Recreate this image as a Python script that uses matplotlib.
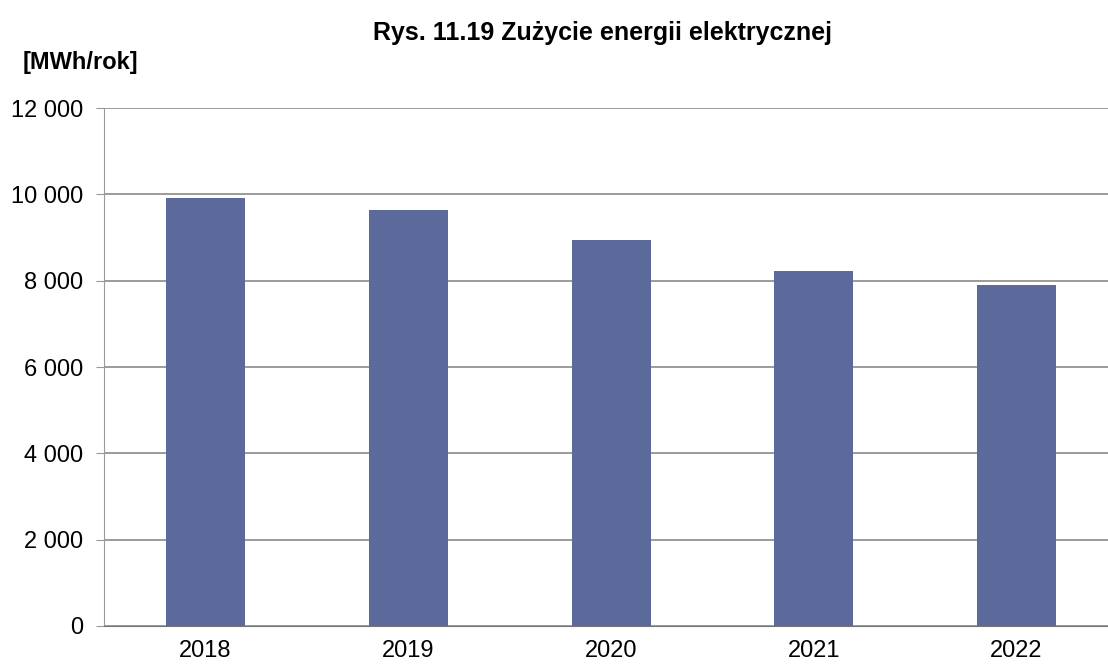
import matplotlib.pyplot as plt
import numpy as np

plt.rcParams['font.family'] = ['Liberation Sans', 'DejaVu Sans']

years = ['2018', '2019', '2020', '2021', '2022']
zuzycie = [9930, 9640, 8950, 8220, 7900]
yticks = [0, 2000, 4000, 6000, 8000, 10000, 12000]
ylabels = ['0', '2 000', '4 000', '6 000', '8 000', '10 000', '12 000']

fig = plt.figure(figsize=(11.08, 6.68), dpi=100)
ax = fig.add_axes([0.094, 0.063, 0.915, 0.775])

x = np.arange(len(years))
ax.bar(x, zuzycie, width=0.39, color='#5b6a9b', zorder=3)

ax.set_xlim(-0.5, 4.5)
ax.set_ylim(0, 12000)
ax.set_yticks(yticks)
ax.set_yticklabels(ylabels, fontsize=17)
ax.set_xticks(x)
ax.set_xticklabels(years, fontsize=17)
ax.tick_params(axis='x', length=0, pad=10)
ax.tick_params(axis='y', length=6, color='#999999', pad=9)
ax.yaxis.grid(True, color='#8a8a8a', linewidth=1.2, zorder=0)

for s in ['top', 'right']:
    ax.spines[s].set_visible(False)
ax.spines['left'].set_color('#999999')
ax.spines['bottom'].set_color('#777777')

fig.text(0.544, 0.95, 'Rys. 11.19 Zużycie energii elektrycznej', ha='center', va='center',
         fontsize=18, fontweight='bold')
fig.text(0.02, 0.906, '[MWh/rok]', ha='left', va='center', fontsize=17, fontweight='bold')

plt.savefig('out.png', dpi=100)
